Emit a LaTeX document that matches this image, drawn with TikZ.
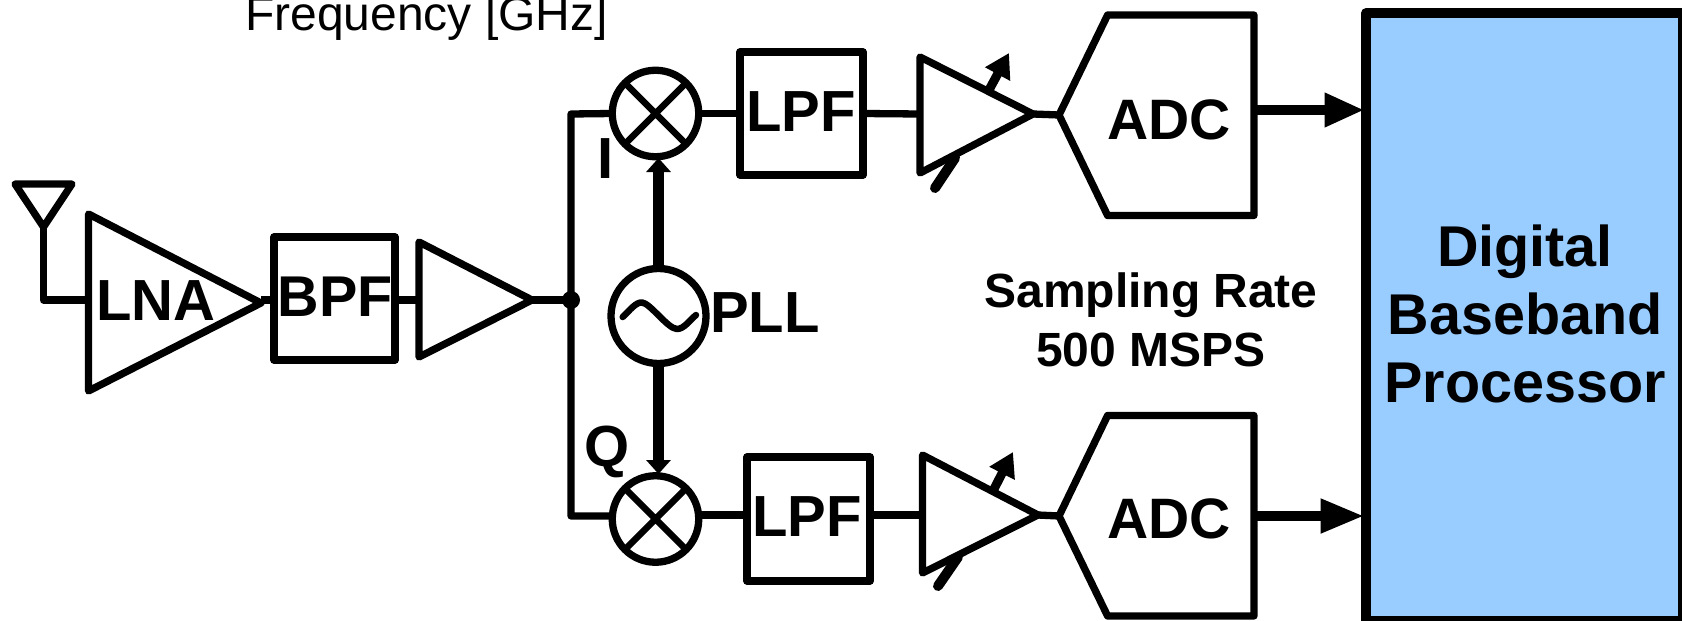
\documentclass[tikz,border=0pt]{standalone}
\usepackage{fontspec}
\setmainfont{Liberation Sans}
\usetikzlibrary{arrows.meta}
\definecolor{bbfill}{HTML}{99CCFF}
\tikzset{
  stroke/.style={draw=black,line width=7.3pt,line join=round},
  wire/.style={stroke},
  box/.style={stroke,rectangle,inner sep=0pt,outer sep=0pt},
  mixer/.style={stroke,circle,inner sep=0pt,outer sep=0pt,minimum size=86.5pt},
  lbl/.style={font=\fontsize{58}{58}\selectfont\bfseries,anchor=base,inner sep=0pt},
  thickarrow/.style={draw=black,line width=10.5pt,shorten >=1.5pt},
  loarrow/.style={draw=black,line width=11.5pt,-{Triangle[length=14pt,width=24pt]}},
  gainarrow/.style={draw=black,line width=9pt,-{Triangle[length=24pt,width=27pt]}},
  gaintail/.style={draw=black,line width=10pt,line cap=round},
}
\begin{document}
\begin{tikzpicture}[x=1pt,y=-1pt]
\useasboundingbox (0,0) rectangle (1682,621);
% named points
\coordinate (antL) at (15,184); \coordinate (antR) at (72,184); \coordinate (antB) at (43.5,227);
\coordinate (antC) at (43.5,300);
\coordinate (lnaT) at (88.5,214); \coordinate (lnaB) at (88.5,391); \coordinate (lnaO) at (261,303);
\coordinate (lnaI) at (88.5,300);
\coordinate (ampT) at (419,242); \coordinate (ampB) at (419,357); \coordinate (ampO) at (532,300); \coordinate (ampI) at (419,300);
\coordinate (ia1T) at (920,57); \coordinate (ia1B) at (920,173); \coordinate (ia1O) at (1033,114); \coordinate (ia1I) at (920,114);
\coordinate (ia2T) at (922.5,455); \coordinate (ia2B) at (922.5,573); \coordinate (ia2O) at (1038,515); \coordinate (ia2I) at (922.5,515);
\coordinate (ad1T) at (1107.6,15); \coordinate (ad1R) at (1254,15); \coordinate (ad1S) at (1254,215.5); \coordinate (ad1U) at (1107.6,215.5); \coordinate (ad1I) at (1059,115);
\coordinate (ad1O) at (1254,110);
\coordinate (ad2T) at (1107.6,415.5); \coordinate (ad2R) at (1254,415.5); \coordinate (ad2S) at (1254,616); \coordinate (ad2U) at (1107.6,616); \coordinate (ad2I) at (1059,516);
\coordinate (ad2O) at (1254,516);
\coordinate (corT) at (571,114); \coordinate (corB) at (571,516);
% boxes
\node[box,minimum width=121pt,minimum height=123pt] (bpf) at (334.5,298.5) {};
\node[box,minimum width=123pt,minimum height=123pt] (lpfa) at (801.5,113.5) {};
\node[box,minimum width=123pt,minimum height=124pt] (lpfb) at (808.5,519) {};
\node[mixer] (mixa) at (655.5,113.5) {};
\node[mixer] (mixb) at (655.5,519) {};
\node[mixer,minimum size=95pt] (pll) at (658.5,316) {};
\node[stroke,line width=9.5pt,rectangle,fill=bbfill,inner sep=0pt,outer sep=0pt,minimum width=317pt,minimum height=608pt] (bb) at (1524.5,317) {};
% mixer crosses
\draw[stroke,line width=6.5pt] (mixa.45) -- (mixa.225) (mixa.135) -- (mixa.315);
\draw[stroke,line width=6.5pt] (mixb.45) -- (mixb.225) (mixb.135) -- (mixb.315);
% sine in PLL
\draw[line width=6.5pt,line cap=round,line join=round] (622.7,317) .. controls (630,310) and (636,302) .. (642,302.5) .. controls (650,303) and (668,329) .. (677,329) .. controls (684,329) and (690,320) .. (696,315);
% antenna, amplifiers, ADCs
\draw[stroke] (antL) -- (antR) -- (antB) -- cycle;
\draw[stroke] (lnaT) -- (lnaO) -- (lnaB) -- cycle;
\draw[stroke] (ampT) -- (ampO) -- (ampB) -- cycle;
\draw[stroke] (ia1T) -- (ia1O) -- (ia1B) -- cycle;
\draw[stroke] (ia2T) -- (ia2O) -- (ia2B) -- cycle;
\draw[stroke] (ad1I) -- (ad1T) -- (ad1R) -- (ad1S) -- (ad1U) -- cycle;
\draw[stroke] (ad2I) -- (ad2T) -- (ad2R) -- (ad2S) -- (ad2U) -- cycle;
% wires
\draw[wire] (antB) -- (antC) -- (lnaI);
\draw[wire] (lnaO |- ampI) -- (bpf.west |- ampI);
\draw[wire] (bpf.east |- ampI) -- (ampI);
\draw[wire] (ampO) -- (571,300);
\draw[wire] (mixa.west) -- (corT) -- (corB) -- (mixb.west |- corB);
\draw[wire] (mixa.east) -- (lpfa.west);
\draw[wire] (mixb.east |- ia2I) -- (lpfb.west |- ia2I);
\draw[wire] (lpfa.east) -- (ia1I);
\draw[wire] (lpfb.east |- ia2I) -- (ia2I);
\draw[wire] (ia1O) -- (ad1I);
\draw[wire] (ia2O) -- (ad2I);
\fill (571,300) circle[radius=9pt];
% LO arrows
\draw[loarrow] (pll.north) -- (658.5,158);
\draw[loarrow] (pll.south) -- (658.5,474);
% gain-control arrows
\draw[gainarrow] (989,90) -- (1009,53);
\draw[gaintail] (955,158) -- (935,188);
\draw[gainarrow] (994,489) -- (1013,452);
\draw[gaintail] (958,557) -- (938,586);
% outputs
\draw[thickarrow,-{Triangle[length=40pt,width=32pt]}] (ad1O) -- (bb.west |- ad1O);
\draw[thickarrow,-{Triangle[length=44pt,width=32pt]}] (ad2O) -- (bb.west |- ad2O);
% labels
\node[font=\fontsize{48}{48}\selectfont,anchor=base west,inner sep=0pt] (freq) at (245,30) {Frequency [GHz]};
\node[lbl] (tlna) at (156,320) {LNA};
\node[lbl,font=\fontsize{57.5}{57.5}\selectfont\bfseries] (tbpf) at (335,316) {BPF};
\node[lbl] (tlpfa) at (801,131) {LPF};
\node[lbl] (tlpfb) at (807,536) {LPF};
\node[lbl,font=\fontsize{57}{57}\selectfont\bfseries] (tadca) at (1169,139) {ADC};
\node[lbl,font=\fontsize{57}{57}\selectfont\bfseries] (tadcb) at (1169,538) {ADC};
\node[lbl] (tpll) at (765,332) {PLL};
\node[lbl] (ti) at (606,178) {I};
\node[lbl] (tq) at (607,466) {Q};
\node[font=\fontsize{48}{58.5}\selectfont\bfseries,align=center,inner sep=0pt,anchor=center] (rate) at (1151,320) {Sampling Rate\\500 MSPS};
\node[font=\fontsize{57.5}{68}\selectfont\bfseries,align=center,inner sep=0pt,anchor=center] (bbt) at (1525,314) {Digital\\Baseband\\Processor};
\end{tikzpicture}
\end{document}
